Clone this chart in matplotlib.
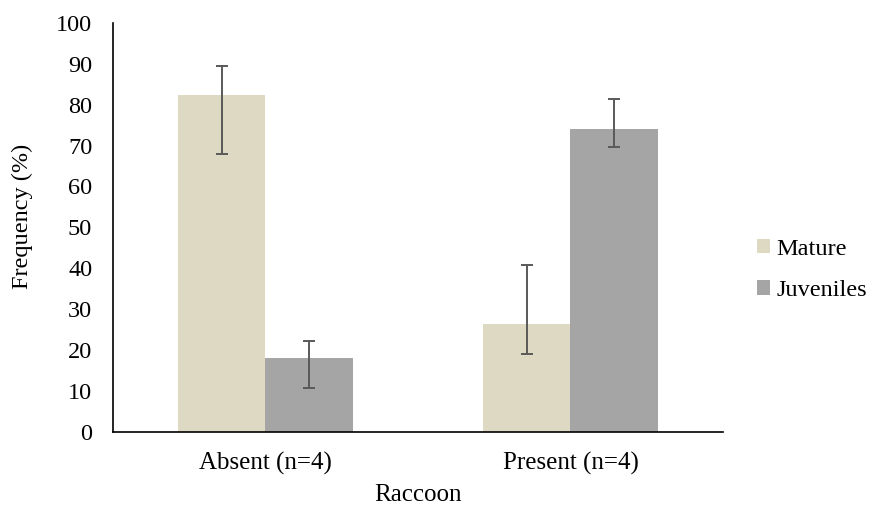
import numpy as np
import matplotlib.pyplot as plt

plt.rcParams['font.family'] = ['Liberation Serif', 'DejaVu Serif']

categories = ['Absent (n=4)', 'Present (n=4)']
mature = [82.4, 26.4]
mature_hi = [89.5, 40.8]
mature_lo = [68.0, 19.1]
juveniles = [18.1, 74.1]
juveniles_hi = [22.2, 81.4]
juveniles_lo = [10.8, 69.7]

fig = plt.figure(figsize=(8.69, 5.07), dpi=100)
ax = fig.add_axes([0.130, 0.148, 0.702, 0.807])

x = np.arange(len(categories))
w = 0.288

err_m = [np.array(mature) - np.array(mature_lo), np.array(mature_hi) - np.array(mature)]
err_j = [np.array(juveniles) - np.array(juveniles_lo), np.array(juveniles_hi) - np.array(juveniles)]

ekw = dict(ecolor='#595959', elinewidth=1.4, capsize=4, capthick=1.4)
ax.bar(x - w / 2, mature, w, color='#DDD9C3', label='Mature', yerr=err_m, error_kw=ekw)
ax.bar(x + w / 2, juveniles, w, color='#A5A5A5', label='Juveniles', yerr=err_j, error_kw=ekw)

ax.set_xlim(-0.5, 1.5)
ax.set_ylim(0, 100)
ax.set_yticks(range(0, 101, 10))
ax.set_xticks(x)
ax.set_xticklabels(categories, fontsize=18)
ax.tick_params(axis='both', length=0)
ax.tick_params(axis='y', labelsize=17.5, pad=15)
ax.tick_params(axis='x', pad=14)

for s in ['top', 'right']:
    ax.spines[s].set_visible(False)
for s in ['left', 'bottom']:
    ax.spines[s].set_linewidth(1.2)
    ax.spines[s].set_color('black')

ax.set_ylabel('Frequency (%)', fontsize=17.5)
ax.yaxis.set_label_coords(-0.131, 0.528)
ax.set_xlabel('Raccoon', fontsize=18, labelpad=7)

ax.legend(loc='center left', bbox_to_anchor=(1.02, 0.396), frameon=False,
          fontsize=17.5, handlelength=0.55, handleheight=0.55, handletextpad=0.25,
          labelspacing=0.85)

fig.savefig('out.png', dpi=100)
